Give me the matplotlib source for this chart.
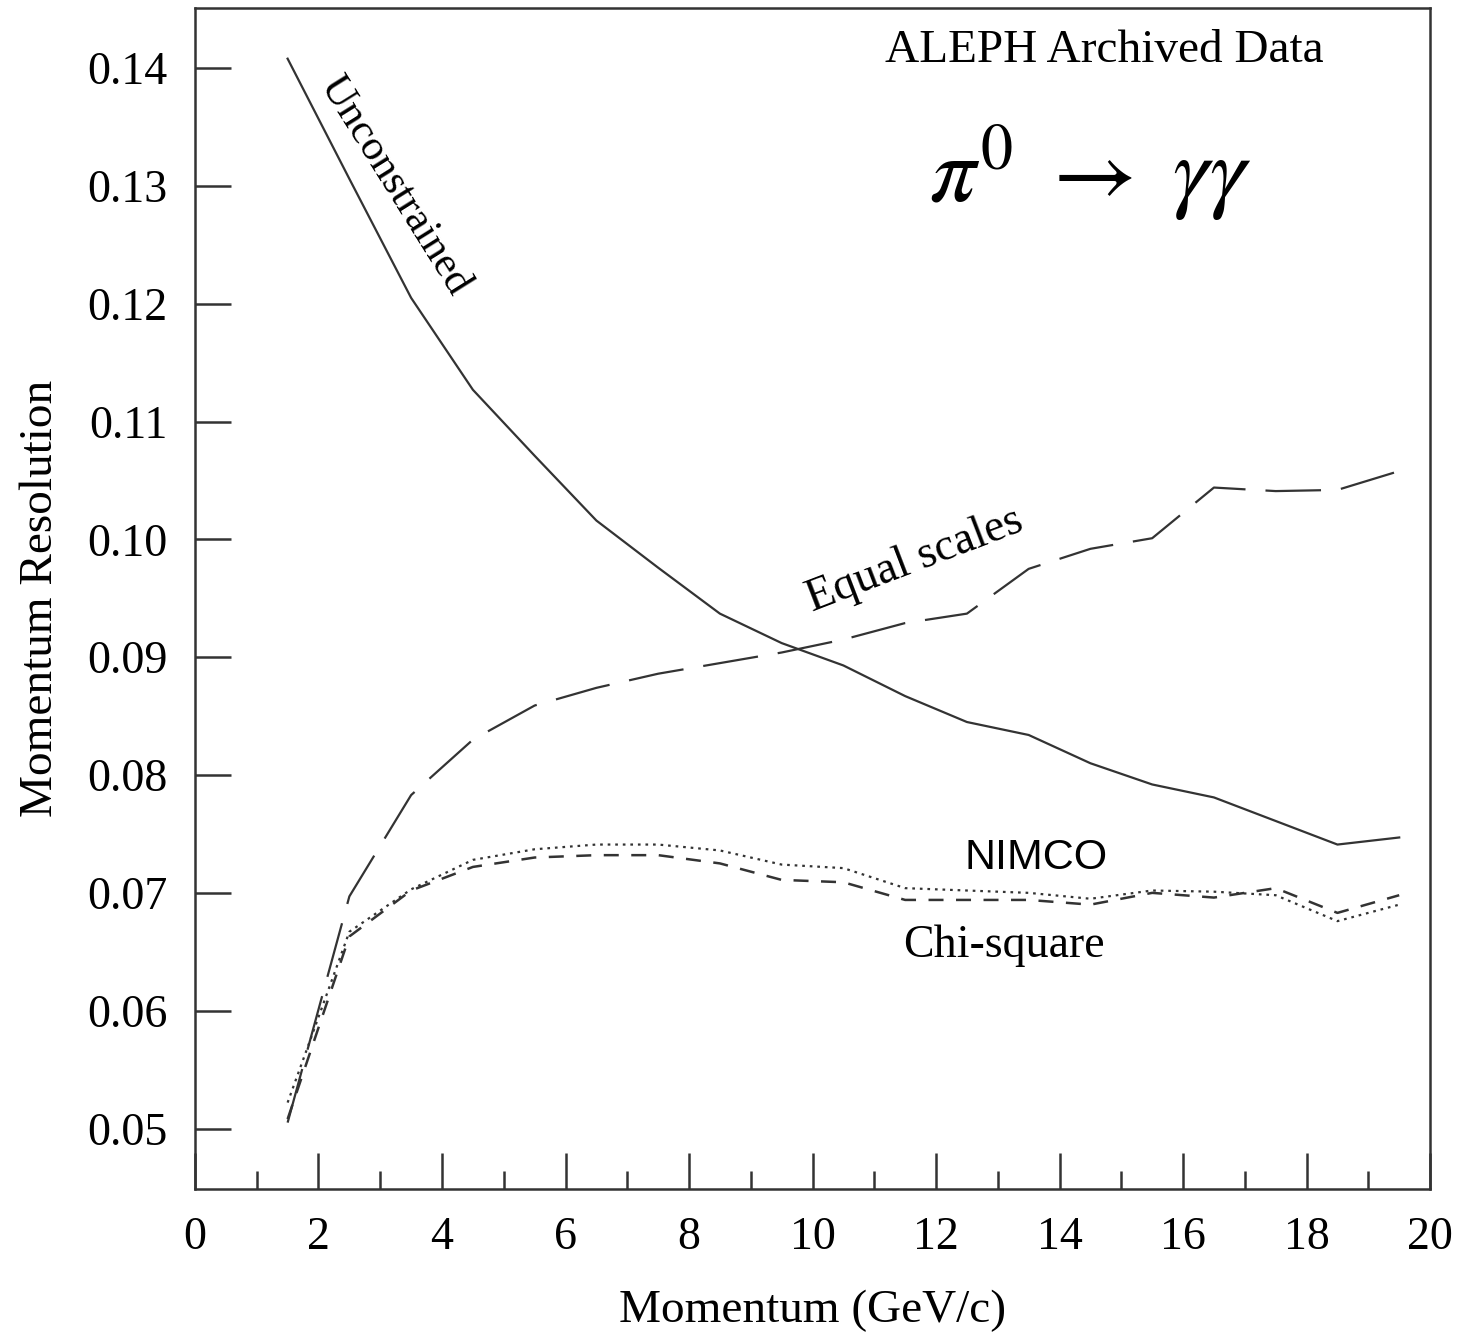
import numpy as np
import matplotlib
matplotlib.use("Agg")
import matplotlib.pyplot as plt
from matplotlib.ticker import MultipleLocator

# momentum bin centres (GeV/c)
momentum = [1.5, 2.5, 3.5, 4.5, 5.5, 6.5, 7.5, 8.5, 9.5, 10.5,
            11.5, 12.5, 13.5, 14.5, 15.5, 16.5, 17.5, 18.5, 19.5]

unconstrained = [0.1408, 0.1306, 0.1205, 0.1127, 0.1071, 0.1016, 0.0976, 0.0937, 0.0912, 0.0893,
                 0.0867, 0.0845, 0.0834, 0.0810, 0.0792, 0.0781, 0.0761, 0.0741, 0.0747]
equal_scales = [0.0505, 0.0697, 0.0783, 0.0830, 0.0859, 0.0874, 0.0886, 0.0895, 0.0904, 0.0915,
                0.0929, 0.0937, 0.0975, 0.0992, 0.1001, 0.1044, 0.1041, 0.1042, 0.1058]
chi_square = [0.0508, 0.0663, 0.0702, 0.0722, 0.0730, 0.0732, 0.0732, 0.0725, 0.0711, 0.0709,
              0.0694, 0.0694, 0.0694, 0.0690, 0.0700, 0.0696, 0.0704, 0.0683, 0.0698]
nimco = [0.0522, 0.0667, 0.0703, 0.0728, 0.0737, 0.0741, 0.0741, 0.0736, 0.0724, 0.0721,
         0.0704, 0.0702, 0.0700, 0.0695, 0.0702, 0.0701, 0.0698, 0.0676, 0.0690]

plt.rcParams["font.family"] = ["Liberation Serif", "DejaVu Serif"]
plt.rcParams["mathtext.fontset"] = "stix"

INK = "#333333"

fig = plt.figure(figsize=(14.66, 13.37), dpi=100)
ax = fig.add_axes([0.133, 0.111, 0.8425, 0.883])

ax.plot(momentum, unconstrained, "-", color=INK, lw=1.6)
ax.plot(momentum, equal_scales, color=INK, lw=1.6, dashes=(25, 9))
ax.plot(momentum, chi_square, color=INK, lw=1.8, dashes=(6, 5))
ax.plot(momentum, nimco, color=INK, lw=1.6, dashes=(1.2, 2.2))

ax.set_xlim(0, 20)
ax.set_ylim(0.0449, 0.1451)
ax.xaxis.set_major_locator(MultipleLocator(2))
ax.xaxis.set_minor_locator(MultipleLocator(1))
yt = np.arange(0.05, 0.1401, 0.01)
ax.set_yticks(yt)
ax.set_yticklabels([f"{v:.2f}" for v in yt])

ax.tick_params(which="major", direction="in", length=26, width=1.8, color=INK,
               labelsize=33, pad=20, top=False, right=False)
ax.tick_params(axis="x", which="minor", direction="in", length=13, width=1.8, color=INK,
               top=False)
for s in ax.spines.values():
    s.set_linewidth(1.8)
    s.set_color(INK)

ax.set_xlabel("Momentum (GeV/c)", fontsize=34, labelpad=22)
ax.set_ylabel("Momentum Resolution", fontsize=34, labelpad=18)

ax.text(3.22, 0.1300, "Unconstrained", rotation=-58, fontsize=31,
        ha="center", va="center", rotation_mode="anchor")
ax.text(11.65, 0.0982, "Equal scales", rotation=21, fontsize=33,
        ha="center", va="center", rotation_mode="anchor")
ax.text(13.62, 0.0730, "NIMCO", fontsize=31, family=["Liberation Sans", "DejaVu Sans"],
        ha="center", va="center")
ax.text(13.1, 0.0655, "Chi-square", fontsize=33, ha="center", va="center")
ax.text(14.72, 0.1415, "ALEPH Archived Data", fontsize=34, ha="center", va="center")
ax.text(14.5, 0.1310, r"$\pi^0\ \rightarrow\ \gamma\gamma$", fontsize=66,
        ha="center", va="center")

fig.savefig("out.png", dpi=100)
